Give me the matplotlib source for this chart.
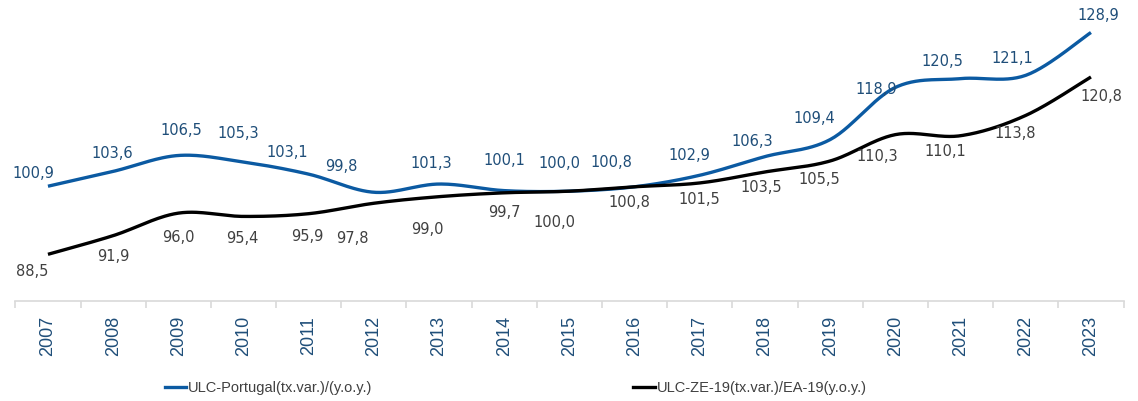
import numpy as np
import matplotlib
matplotlib.use("Agg")
import matplotlib.pyplot as plt
from matplotlib.lines import Line2D

years = [str(y) for y in range(2007, 2024)]
ulc_pt = [100.9, 103.6, 106.5, 105.3, 103.1, 99.8, 101.3, 100.1, 100.0,
          100.8, 102.9, 106.3, 109.4, 118.9, 120.5, 121.1, 128.9]
ulc_ea = [88.5, 91.9, 96.0, 95.4, 95.9, 97.8, 99.0, 99.7, 100.0,
          100.8, 101.5, 103.5, 105.5, 110.3, 110.1, 113.8, 120.8]
names = ["ULC-Portugal(tx.var.)/(y.o.y.)", "ULC-ZE-19(tx.var.)/EA-19(y.o.y.)"]

# label nudges in pixels (dx, dy), as placed in the original
pt_dx = [-15, -1, 3, -5, -21, -33, -8, 0, -10, -23, -10, -13, -16, -19, -18, -13, 7]
pt_dy = [14, 19, 26, 30, 23, 27, 22, 31, 29, 25, 21, 16, 22, -1, 18, 18, 18]
ea_dx = [-16, 0, 0, -1, -1, -22, -12, 0, -15, -5, -1, -4, -11, -18, -15, -11, 10]
ea_dy = [16, 20, 23, 21, 22, 34, 32, 19, 30, 15, 16, 15, 18, 21, 15, 17, 19]

BLUE = "#0B5AA2"
BLUE_TXT = "#1F4E79"
GREY_TXT = "#404040"


def smooth(x, y, n=30):
    # bezier smoothing similar to spreadsheet "smoothed line"
    x = np.asarray(x, float)
    y = np.asarray(y, float)
    px = np.concatenate([[x[0]], x, [x[-1]]])
    py = np.concatenate([[y[0]], y, [y[-1]]])
    xs, ys = [], []
    t = np.linspace(0, 1, n)
    for i in range(len(x) - 1):
        p0 = np.array([px[i + 1], py[i + 1]])
        p3 = np.array([px[i + 2], py[i + 2]])
        c1 = p0 + (p3 - np.array([px[i], py[i]])) / 6
        c2 = p3 - (np.array([px[i + 3], py[i + 3]]) - p0) / 6
        b = ((1 - t) ** 3)[:, None] * p0 + (3 * (1 - t) ** 2 * t)[:, None] * c1 \
            + (3 * (1 - t) * t ** 2)[:, None] * c2 + (t ** 3)[:, None] * p3
        xs.append(b[:, 0])
        ys.append(b[:, 1])
    return np.concatenate(xs), np.concatenate(ys)


fig = plt.figure(figsize=(11.38, 4.02), dpi=100)
ax = fig.add_axes([0.0135, 0.2488, 0.9738, 0.7512])
x = np.arange(len(years))

sx, sy = smooth(x, ulc_pt)
ax.plot(sx, sy, color=BLUE, lw=2.4, solid_capstyle="butt")
sx, sy = smooth(x, ulc_ea)
ax.plot(sx, sy, color="black", lw=2.4, solid_capstyle="butt")

for i, v in enumerate(ulc_pt):
    ax.annotate(f"{v:.1f}".replace(".", ","), (x[i], v),
                xytext=(pt_dx[i], pt_dy[i]), textcoords="offset pixels",
                ha="center", va="center", fontsize=10.5, color=BLUE_TXT,
                family="DejaVu Sans")
for i, v in enumerate(ulc_ea):
    ax.annotate(f"{v:.1f}".replace(".", ","), (x[i], v),
                xytext=(ea_dx[i], -ea_dy[i]), textcoords="offset pixels",
                ha="center", va="center", fontsize=10.5, color=GREY_TXT,
                family="DejaVu Sans")

ax.set_xlim(-0.5, len(years) - 0.5)
ax.set_ylim(80, 135)
for s in ["top", "right", "left"]:
    ax.spines[s].set_visible(False)
ax.spines["bottom"].set_color("#d9d9d9")
ax.spines["bottom"].set_linewidth(1.2)
ax.set_yticks([])
ax.set_xticks(np.arange(len(years) + 1) - 0.5, minor=False)
ax.set_xticklabels([])
ax.tick_params(axis="x", which="major", length=5, color="#d9d9d9", width=1.2)
ax.set_xticks(x, minor=True)
ax.set_xticklabels(years, minor=True, rotation=90, fontsize=13,
                   family="Liberation Sans", color=BLUE_TXT)
ax.tick_params(axis="x", which="minor", length=0, pad=10)

# legend
fig.add_artist(Line2D([165 / 1138, 186 / 1138], [14 / 402, 14 / 402],
                      color=BLUE, lw=2.4))
fig.text(188 / 1138, 14 / 402, names[0], fontsize=10.5, color=GREY_TXT,
         family="Liberation Sans", va="center")
fig.add_artist(Line2D([633 / 1138, 655 / 1138], [14 / 402, 14 / 402],
                      color="black", lw=2.4))
fig.text(657 / 1138, 14 / 402, names[1], fontsize=10.5, color=GREY_TXT,
         family="Liberation Sans", va="center")

fig.savefig("out.png", dpi=100)
